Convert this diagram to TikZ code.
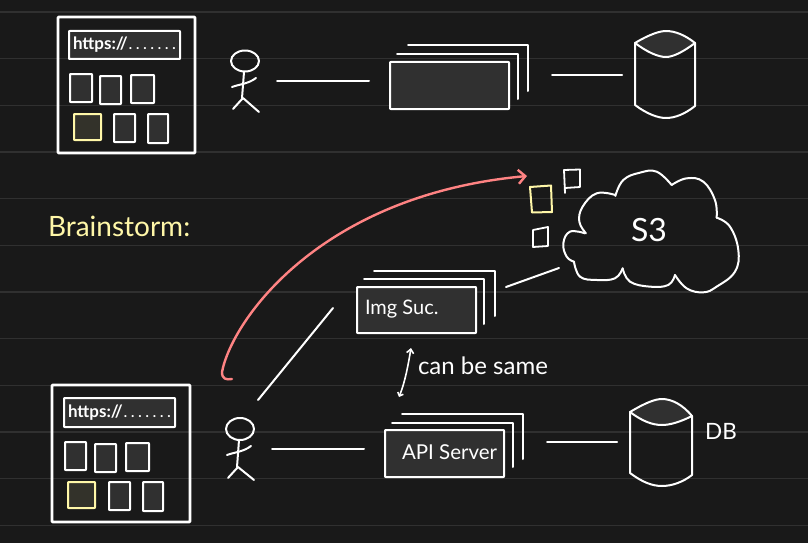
\documentclass[tikz,border=0pt]{standalone}
\usepackage{fontspec}
\setmainfont{Lato}
\usetikzlibrary{arrows.meta,fit,calc}
\definecolor{bgc}{HTML}{191919}
\definecolor{gridc}{HTML}{303030}
\definecolor{fillc}{HTML}{303030}
\definecolor{yel}{HTML}{FFF7A8}
\definecolor{yelfill}{HTML}{33322A}
\definecolor{pinkc}{HTML}{FF8383}
\tikzset{
  ink/.style={draw=white,line width=2pt,line cap=round,line join=round},
  wire/.style={ink},
  boxw/.style={ink,inner sep=0pt,outer sep=0pt,rounded corners=0.6pt},
  outer/.style={boxw,line width=2.6pt},
  filled/.style={boxw,fill=fillc},
  lit/.style={boxw,draw=yel,fill=yelfill},
  ghost/.style={inner sep=0pt,outer sep=0pt},
  hand/.style={text=white,inner sep=0pt,outer sep=0pt},
  grid line/.style={draw=gridc,line width=1.2pt},
}
\newcommand{\bx}[6]{\node[#1,fit={(#3,#4) (#5,#6)}] (#2) {};}
\newcommand{\urltext}{{\fontsize{17}{18}\selectfont https://}\hspace{1pt}{\fontsize{14}{15}\selectfont\addfontfeature{LetterSpace=28}.......}}
\begin{document}
\begin{tikzpicture}[x=1pt,y=-1pt]
\useasboundingbox (0,0) rectangle (808,543);
\fill[bgc] (0,0) rectangle (808,543);
\foreach \g in {12,58.7,105.3,152,198.7,245.3,292,338.7,385.3,432,478.7,525.3}
  \draw[grid line] (0,\g) -- (808,\g);

% --- top browser
\bx{outer}{b1}{58}{17}{195}{153}
\bx{filled}{u1}{69}{31}{180}{59}
\node[hand,anchor=west,font=\bfseries] (t1) at (73,45) {\urltext};
\bx{filled}{s11}{70}{74}{92}{102}
\bx{filled}{s12}{100}{76}{121}{104}
\bx{filled}{s13}{131}{75}{154}{103}
\bx{lit}{s14}{74}{114}{101}{140}
\bx{filled}{s15}{114}{114}{135}{142}
\bx{filled}{s16}{148}{114}{168}{143}

% --- top person
\node[ghost,fit={(231,50) (260,112)}] (p1) {};
\draw[ink] (245,61) ellipse [x radius=14,y radius=10.5];
\draw[ink] (244,72) -- (242,98);
\draw[ink] (232,87) .. controls (240,84) and (248,84) .. (256,78);
\draw[ink] (233,109) -- (243,98) -- (259,112);

% --- top server stack
\draw[ink] (408,45.5) -- (528,45.5) -- (528,91);
\draw[ink] (397,54) -- (518,54) -- (518,99);
\bx{filled}{f1}{390}{62}{509}{109}

% --- top cylinder
\node[ghost,fit={(635,31) (695,118)}] (c1) {};
\fill[fillc] (635,43) .. controls (650,34) and (662,31) .. (666,31) .. controls (675,31) and (685,35) .. (695,43) .. controls (683,52) and (673,57) .. (666,57) .. controls (658,57) and (647,52) .. (635,43) -- cycle;
\draw[ink] (635,43) .. controls (650,34) and (660,31) .. (666,31) .. controls (675,31) and (685,35) .. (695,43);
\draw[ink] (635,43) .. controls (647,52) and (658,57) .. (666,57) .. controls (673,57) and (683,52) .. (695,43);
\draw[ink] (635,43) -- (635,105) .. controls (647,114) and (658,118) .. (666,118) .. controls (675,118) and (685,114) .. (695,106) -- (695,43);

\draw[wire,shorten <=17pt,shorten >=21pt] (p1.east) -- (p1.east -| f1.west);
\draw[wire,shorten <=43pt,shorten >=13pt] (c1.west -| f1.east) -- (c1.west);

% --- heading
\node[hand,text=yel,anchor=west,font=\fontsize{28}{30}\selectfont] (brain) at (48,226) {Brainstorm:};

% --- documents
\draw[ink,line width=1.8pt] (565,193) -- (564,170) -- (580,169.5) -- (580,187) -- (565,188);
\draw[draw=yel,line width=2pt,line join=round,line cap=round] (530,187) -- (551,185.5) -- (552,212) -- (532,212.5) -- cycle;
\draw[ink,line width=1.8pt] (533,230) -- (548,227) -- (548,246) -- (533,247) -- cycle;

% --- cloud
\begin{scope}[shift={(340,150)},x=0.3333pt,y=-0.3333pt]
\draw[ink] plot[smooth,tension=0.7] coordinates {(738,250) (718,215) (728,170) (770,130) (826,135)};
\draw[ink] plot[smooth,tension=0.7] coordinates {(826,138) (850,90) (900,68) (950,65) (995,105)};
\draw[ink] plot[smooth,tension=0.7] coordinates {(995,105) (1040,85) (1090,95) (1125,150) (1130,203)};
\draw[ink] plot[smooth,tension=0.7] coordinates {(1130,203) (1170,230) (1195,300) (1185,365) (1130,410) (1090,427) (1040,415) (1005,375)};
\draw[ink] plot[smooth,tension=0.7] coordinates {(1005,375) (985,405) (930,410) (870,395) (848,355)};
\draw[ink] plot[smooth,tension=0.7] coordinates {(848,355) (825,385) (770,390) (720,380) (702,335)};
\draw[ink] plot[smooth,tension=0.7] coordinates {(702,335) (680,320) (670,280) (690,245) (735,250)};
\end{scope}
\node[hand,font=\fontsize{32}{34}\selectfont] (s3) at (649,230) {S3};

% --- image service stack
\draw[ink] (374,270.5) -- (495,270.5) -- (495,316);
\draw[ink] (364,279) -- (484,279) -- (484,324);
\bx{filled}{f3}{357}{287}{476}{333}
\node[hand,anchor=west,font=\fontsize{20}{22}\selectfont] (t3) at (365,309) {Img Suc.};
\coordinate (a3) at (506,287);
\coordinate (b3) at (559,268);
\draw[wire] (a3) -- (b3);

% --- lower browser
\bx{outer}{b2}{52}{385}{190}{522}
\bx{filled}{u2}{64}{398}{175}{427}
\node[hand,anchor=west,font=\bfseries] (t2) at (68,413) {\urltext};
\bx{filled}{s21}{65}{442}{86}{470}
\bx{filled}{s22}{95}{444}{116}{472}
\bx{filled}{s23}{126}{443}{149}{471}
\bx{lit}{s24}{68}{482}{95}{508}
\bx{filled}{s25}{109}{482}{130}{510}
\bx{filled}{s26}{143}{482}{163}{511}

% --- lower person
\node[ghost,fit={(226,418) (255,480)}] (p2) {};
\draw[ink] (240,429) ellipse [x radius=14,y radius=11];
\draw[ink] (239,440) -- (237,467);
\draw[ink] (227,455) .. controls (235,452) and (243,452) .. (251,446);
\draw[ink] (228,478) -- (238,467) -- (254,480);

% --- API stack
\draw[ink] (402,414) -- (523,414) -- (523,459);
\draw[ink] (392,423) -- (513,423) -- (513,467);
\bx{filled}{f2}{385}{430}{504}{477}
\node[hand,anchor=west,font=\fontsize{20.5}{22}\selectfont] (t4) at (402,452) {API Server};

% --- lower cylinder
\node[ghost,fit={(630,399) (692,486)}] (c2) {};
\fill[fillc] (630,412) .. controls (645,403) and (655,399) .. (662,399) .. controls (672,399) and (683,405) .. (692,416) .. controls (680,422) and (670,425) .. (662,425) .. controls (652,425) and (642,421) .. (630,412) -- cycle;
\draw[ink] (630,412) .. controls (645,403) and (655,399) .. (662,399) .. controls (672,399) and (683,405) .. (692,416);
\draw[ink] (630,412) .. controls (642,421) and (652,425) .. (662,425) .. controls (670,425) and (680,422) .. (692,416);
\draw[ink] (630,412) -- (630,473) .. controls (642,482) and (652,486) .. (662,486) .. controls (672,486) and (683,482) .. (692,475) -- (692,416);
\node[hand,font=\fontsize{22.5}{24}\selectfont] (db) at (721,431) {DB};

\draw[wire,shorten <=17pt,shorten >=21pt] (p2.east |- 0,449) -- (f2.west |- 0,449);
\draw[wire,shorten <=43pt,shorten >=13pt] (f2.east |- 0,442) -- (c2.west |- 0,442);
\coordinate (a2) at (258,400);
\coordinate (b2c) at (333,308);
\draw[wire] (a2) -- (b2c);

% --- same-service double arrow
\coordinate (a5) at (399,397);
\coordinate (b5) at (411,348);
\draw[ink,line width=1.6pt,{Straight Barb[length=3pt,width=6pt]}-{Straight Barb[length=4pt,width=7pt]}] (a5) .. controls (405,382) and (408,366) .. (b5);
\node[hand,anchor=west,font=\fontsize{24}{26}\selectfont] (t5) at (418,366) {can be same};

% --- pink arrow
\coordinate (a6) at (232,379);
\coordinate (b6) at (527,176);
\draw[draw=pinkc,line width=2.4pt,line cap=round,line join=round,-{Straight Barb[length=7pt,width=14pt]}]
  (a6) .. controls (226,380) and (222,379) .. (222,372) .. controls (232,320) and (320,195) .. (b6);
\end{tikzpicture}
\end{document}
